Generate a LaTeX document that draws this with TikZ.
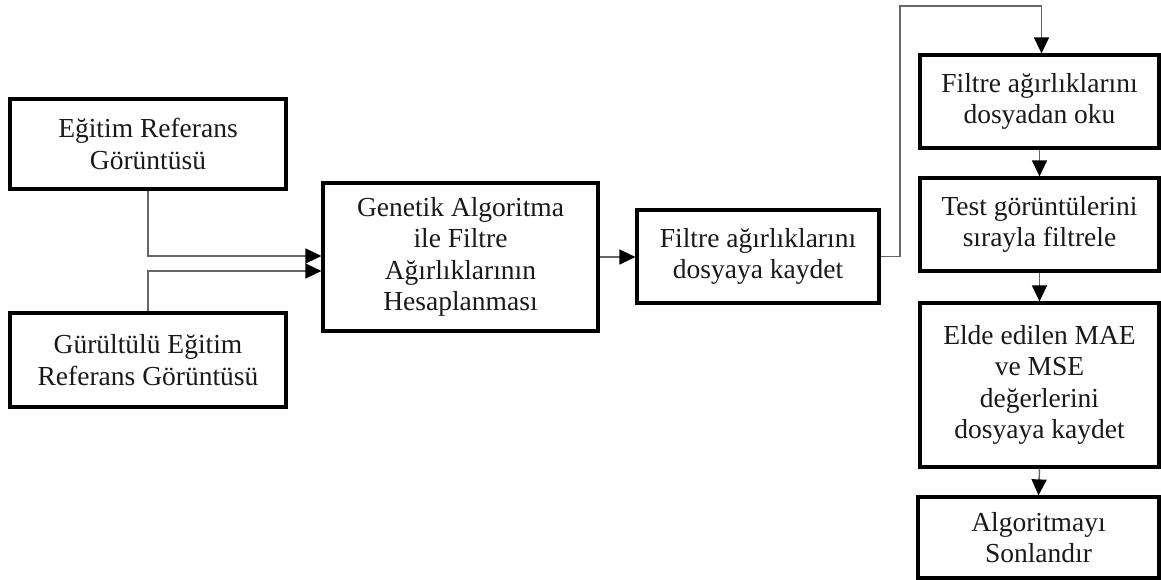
\documentclass[tikz,border=0pt]{standalone}
\usepackage{fontspec}
\setmainfont{Liberation Serif}
\usetikzlibrary{arrows.meta,calc}
\begin{document}
\begin{tikzpicture}[x=1pt,y=-1pt,
  box/.style={draw=black,line width=3.2pt,inner sep=0pt,align=center,
    font=\fontsize{27.5}{31.4}\selectfont,text=black!90},
  conn/.style={draw=black!60,line width=1.4pt,
    -{Triangle[length=16pt,width=15pt,fill=black,color=black]}}]
\useasboundingbox (0,0) rectangle (1161,580);
\node[box,minimum width=276pt,minimum height=90pt] (b1) at (148,144) {Eğitim Referans\\Görüntüsü};
\node[box,minimum width=276pt,minimum height=94pt] (b2) at (148,360) {Gürültülü Eğitim\\Referans Görüntüsü};
\node[box,minimum width=275pt,minimum height=148pt] (b3) at (460.5,257) {Genetik Algoritma\\ile Filtre\\Ağırlıklarının\\Hesaplanması};
\node[box,minimum width=242pt,minimum height=93pt] (b4) at (758,256.5) {Filtre ağırlıklarını\\dosyaya kaydet};
\node[box,minimum width=239pt,minimum height=93pt] (b5) at (1039.5,101.5) {Filtre ağırlıklarını\\dosyadan oku};
\node[box,minimum width=239pt,minimum height=93pt] (b6) at (1039.5,224.5) {Test görüntülerini\\sırayla filtrele};
\node[box,minimum width=239pt,minimum height=164pt] (b7) at (1039.5,385) {Elde edilen MAE\\ve MSE\\değerlerini\\dosyaya kaydet};
\node[box,minimum width=241pt,minimum height=81pt] (b8) at (1038.5,537.5) {Algoritmayı\\Sonlandır};
\coordinate (u1) at (900,6);
\coordinate (u2) at (1041.5,6);
\draw[conn] (b1.south) |- ([yshift=1pt]b3.west);
\draw[conn] (b2.north) |- ([yshift=-14pt]b3.west);
\draw[conn] (b3.east) -- (b3.east -| b4.west);
\draw[conn] (b4.east) -| (u1) -- (u2) -- (u2 |- b5.north);
\draw[conn] (b5.south) -- (b6.north);
\draw[conn] (b6.south) -- (b7.north);
\draw[conn] (b7.south) -- (b8.north);
\end{tikzpicture}
\end{document}
